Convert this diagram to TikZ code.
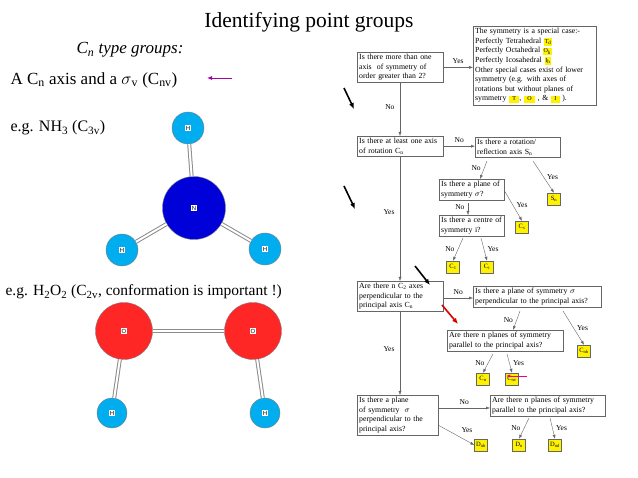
\documentclass[tikz,border=0pt]{standalone}
\usepackage{fontspec}
\setmainfont{Liberation Serif}
\newfontfamily\sans{Liberation Sans}
\usetikzlibrary{arrows.meta}
\newcommand{\yb}[1]{{\setlength{\fboxsep}{0.8pt}\colorbox{yellow}{\fontsize{6}{6}\selectfont\strut #1}}}
\begin{document}
\begin{tikzpicture}[x=1pt,y=-1pt,
  q/.style={draw=black!60,fill=white,font=\fontsize{7.8}{9.6}\selectfont,align=left,inner sep=2pt,anchor=north west,text width=#1,execute at begin node={\hyphenpenalty=10000\exhyphenpenalty=10000}},
  q/.default=80pt,
  yl/.style={draw=black!60,fill=yellow,font=\fontsize{6.5}{7}\selectfont,inner sep=1.5pt,minimum height=12pt,minimum width=13pt},
  lab/.style={font=\fontsize{7.5}{8}\selectfont},
  ar/.style={draw=black!60,-{Latex[length=4pt,width=3pt]}},
  big/.style={black,line width=1.6pt,-{Latex[length=6pt,width=5pt]}},
  bond/.style={line width=4pt,draw=black!45},
  bondin/.style={line width=2pt,draw=white},
  atom/.style={circle,draw=black!50,thin,inner sep=0pt,minimum size=#1},
  el/.style={fill=white,inner sep=0.8pt,font=\sans\fontsize{6}{6}\selectfont}]
\useasboundingbox (0,0) rectangle (638,478);
% titles
\node[font=\fontsize{21.5}{23}\selectfont] (title) at (309,22) {Identifying point groups};
\node[font=\itshape\fontsize{17}{19}\selectfont] (ct) at (130,50) {C\textsubscript{\textit{n}} type groups:};
\node[font=\fontsize{17}{19}\selectfont,anchor=west] (ax) at (7,80) {A C\textsubscript{n} axis and a $\sigma$\textsubscript{v} (C\textsubscript{nv})};
\node[font=\fontsize{16}{19}\selectfont,anchor=west] (nh) at (7,128) {e.g. NH\textsubscript{3} (C\textsubscript{3v})};
\node[font=\fontsize{15.5}{19}\selectfont,anchor=west] (ho) at (2,292) {e.g. H\textsubscript{2}O\textsubscript{2} (C\textsubscript{2v}, conformation is important !)};
\coordinate (pa1) at (232,78); \coordinate (pa2) at (207,78);
\draw[violet!70!magenta,thick,-{Latex[length=5pt,width=4pt]}] (pa1) -- (pa2);
% NH3
\node[atom=63pt,fill=blue!85!black] (N) at (194,208) {};
\node[atom=32pt,fill=cyan] (H1) at (188,128) {};
\node[atom=32pt,fill=cyan] (H2) at (122,250) {};
\node[atom=32pt,fill=cyan] (H3) at (265,249) {};
\foreach \h in {H1,H2,H3}{\draw[bond] (N) -- (\h); \draw[bondin] (N) -- (\h);}
% H2O2
\node[atom=57pt,fill=red!85] (O1) at (124,331) {};
\node[atom=57pt,fill=red!85] (O2) at (253,331) {};
\node[atom=30pt,fill=cyan] (H4) at (112,413) {};
\node[atom=30pt,fill=cyan] (H5) at (265,413) {};
\foreach \a/\b in {O1/O2,O1/H4,O2/H5}{\draw[bond] (\a) -- (\b); \draw[bondin] (\a) -- (\b);}
\foreach \n/\t in {N/N,H1/H,H2/H,H3/H,O1/O,O2/O,H4/H,H5/H}{\node[el] at (\n) {\t};}
% flowchart
\node[q=82pt] (b1) at (357,52) {Is there more than one axis\ \ of symmetry of order greater than 2?};
\node[q=119pt] (sp) at (473,26) {The symmetry is a special case:-\\
Perfectly Tetrahedral \yb{T\textsubscript{d}}\\
Perfectly Octahedral \yb{O\textsubscript{h}}\\
Perfectly Icosahedral \yb{I\textsubscript{h}}\\
Other special cases exist of lower symmetry (e.g. with axes of rotations but without planes of symmetry \yb{\ T\ }, \yb{\ O\ }\ , \& \yb{\ I\ }\ ).};
\node[q=82pt] (b2) at (357,136) {Is there at least one axis of rotation C\textsubscript{n}};
\node[q=81pt] (b3) at (475,137) {Is there a rotation/ reflection axis S\textsubscript{n}};
\node[q=61pt] (b4) at (439,179) {Is there a plane of symmetry $\sigma$?};
\node[q=61pt] (b5) at (439,215) {Is there a centre of symmetry i?};
\node[q=82pt] (b6) at (357,281) {Are there n C\textsubscript{2} axes perpendicular to the principal axis C\textsubscript{n}};
\node[q=124pt] (b7) at (473,286) {Is there a plane of symmetry $\sigma$ perpendicular to the principal axis?};
\node[q=112pt] (b8) at (447,330) {Are there n planes of symmetry parallel to the principal axis?};
\node[q=77pt] (b9) at (357,395) {Is there a plane of symmetry\ \ $\sigma$ perpendicular to the principal axis?};
\node[q=111pt] (b10) at (490,395) {Are there n planes of symmetry parallel to the principal axis?};
\node[yl] (sn) at (554,199) {S\textsubscript{n}};
\node[yl] (cs) at (522,227) {C\textsubscript{s}};
\node[yl] (c1) at (453,267) {C\textsubscript{1}};
\node[yl] (ci) at (487,267) {C\textsubscript{i}};
\node[yl] (cnh) at (584,351) {C\textsubscript{nh}};
\node[yl] (cn) at (483,379) {C\textsubscript{n}};
\node[yl] (cnv) at (512,379) {C\textsubscript{nv}};
\node[yl] (dnh) at (481,445) {D\textsubscript{nh}};
\node[yl] (dn) at (519,445) {D\textsubscript{n}};
\node[yl] (dnd) at (555,445) {D\textsubscript{nd}};
% connectors
\draw[ar] (b1.east) -- node[lab,above]{Yes} (b1.east -| sp.west);
\draw[ar] (b1.south -| 400,0) -- node[lab,left=2pt,pos=.45]{No} (b2.north -| 400,0);
\draw[ar] (b2.east) -- node[lab,above]{No} (b2.east -| b3.west);
\draw[ar] (b2.south -| 400,0) -- node[lab,left=2pt,pos=.45]{Yes} (b6.north -| 400,0);
\draw[ar] (b6.south -| 400,0) -- node[lab,left=2pt,pos=.45]{Yes} (b9.north -| 400,0);
\draw[ar] (487,161) -- node[lab,left,pos=.4]{No} (480,179);
\draw[ar] (533,161) -- node[lab,right,pos=.5]{Yes} (sn.north);
\draw[ar] (504,190) -- node[lab,right,pos=.5]{Yes} (cs.north);
\draw[ar] (468,203) -- node[lab,left,pos=.3]{No} (468,215);
\draw[ar] (463,238) -- node[lab,left]{No} (c1.north);
\draw[ar] (481,238) -- node[lab,right]{Yes} (ci.north);
\draw[ar] (b6.east |- 0,298) -- node[lab,above]{No} (b7.west |- 0,298);
\draw[ar] (520,311) -- node[lab,left]{No} (513,330);
\draw[ar] (563,311) -- node[lab,right]{Yes} (cnh.north);
\draw[ar] (493,354) -- node[lab,left]{No} (cn.north);
\draw[ar] (507,354) -- node[lab,right]{Yes} (cnv.north);
\draw[ar] (b9.east |- 0,408) -- node[lab,above]{No} (b10.west |- 0,408);
\draw[ar] (438,425) -- node[lab,above right,pos=.55]{Yes} (dnh.west);
\draw[ar] (529,418) -- node[lab,left]{No} (dn.north);
\draw[ar] (550,418) -- node[lab,right]{Yes} (dnd.north);
% pointer arrows
\coordinate (k1a) at (344,88); \coordinate (k1b) at (354,109);
\coordinate (k2a) at (344,186); \coordinate (k2b) at (355,209);
\coordinate (k3a) at (415,266); \coordinate (k3b) at (430,285);
\coordinate (k4a) at (442,305); \coordinate (k4b) at (458,324);
\coordinate (k5a) at (527,376); \coordinate (k5b) at (506,376);
\draw[big] (k1a) -- (k1b);
\draw[big] (k2a) -- (k2b);
\draw[big] (k3a) -- (k3b);
\draw[big,red!85!black] (k4a) -- (k4b);
\draw[magenta,thick,-{Latex[length=4pt,width=3pt]}] (k5a) -- (k5b);
\end{tikzpicture}
\end{document}
